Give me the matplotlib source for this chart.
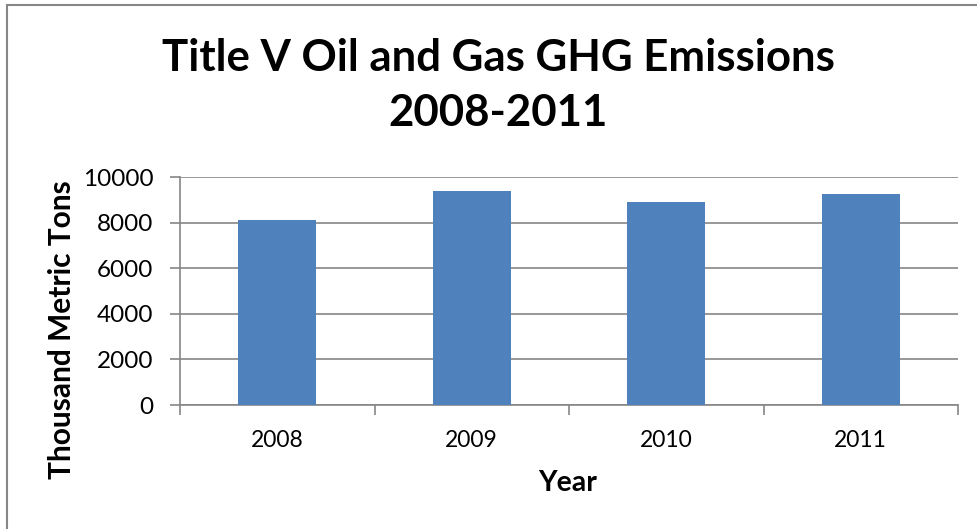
import matplotlib
matplotlib.use("Agg")
import matplotlib.pyplot as plt
import matplotlib.patches as patches

# chart data
years = ["2008", "2009", "2010", "2011"]
emissions = [8130, 9380, 8905, 9260]
y_ticks = [0, 2000, 4000, 6000, 8000, 10000]

BAR_COLOR = "#4F81BD"
AXIS_GRAY = "#868686"

plt.rcParams['font.family'] = ['Lato', 'DejaVu Sans']

W, H = 977, 529
fig = plt.figure(figsize=(W / 100, H / 100), dpi=100)

# outer chart border (runs off the right / bottom edge like the original)
border = patches.Rectangle((6.5 / W, -0.1), 1.2, 1 - 5.5 / H + 0.1,
                           transform=fig.transFigure, fill=False,
                           edgecolor=AXIS_GRAY, linewidth=1.5)
fig.patches.append(border)

ax = fig.add_axes([180 / W, 1 - 405 / H, (958 - 180) / W, (405 - 177) / H])

x = range(len(years))
ax.bar(x, emissions, width=0.4, color=BAR_COLOR, zorder=3)

ax.set_xlim(-0.5, len(years) - 0.5)
ax.set_ylim(0, 10000)
ax.set_yticks(y_ticks)
ax.set_yticklabels([str(v) for v in y_ticks], fontsize=17.5)
ax.set_xticks(list(x))
ax.set_xticklabels(years, fontsize=16.5)
ax.tick_params(axis='x', length=0, pad=18)
ax.set_xticks([i - 0.5 for i in range(len(years) + 1)], minor=True)
ax.tick_params(axis='x', which='minor', length=7, width=1.2, color=AXIS_GRAY)
ax.tick_params(axis='y', length=7, width=1.2, color=AXIS_GRAY, pad=12)

ax.grid(axis='y', color=AXIS_GRAY, linewidth=1.2, zorder=0)
for side in ['top', 'right']:
    ax.spines[side].set_visible(False)
for side in ['left', 'bottom']:
    ax.spines[side].set_color(AXIS_GRAY)
    ax.spines[side].set_linewidth(1.2)

# axis titles placed where the original has them
fig.text(62 / W, 1 - 330 / H, "Thousand Metric Tons", rotation=90,
         ha='center', va='center', fontsize=21.5, fontweight='bold')
fig.text(568 / W, 1 - 483 / H, "Year",
         ha='center', va='center', fontsize=20.5, fontweight='bold')

fig.text(498 / W, 1 - 58 / H, "Title V Oil and Gas GHG Emissions",
         ha='center', va='center', fontsize=31.5, fontweight='bold')
fig.text(498 / W, 1 - 113 / H, "2008-2011",
         ha='center', va='center', fontsize=31.5, fontweight='bold')

fig.savefig("out.png", dpi=100)
